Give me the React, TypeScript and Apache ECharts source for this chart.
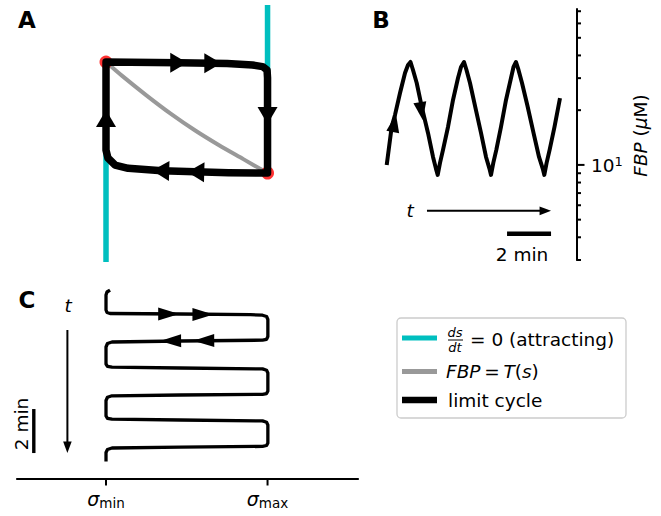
import React, { useEffect, useRef } from 'react';
import * as echarts from 'echarts';

const FONT = 'DejaVu Sans';
const CYAN = '#00bfbf';
const GRAY = '#999999';
const BLACK = '#000000';

// ---------- Panel A : phase plane (sigma vs FBP, normalised) ----------
const nullLeftS = [0, 0];
const nullLeftF = [-0.802, 1.0];
const nullRightS = [1, 1];
const nullRightF = [0, 1.514];
const curveTS = [0, 0.1, 0.25, 0.4, 0.55, 0.7, 0.85, 1];
const curveTF = [1, 0.875, 0.7, 0.535, 0.385, 0.25, 0.125, 0];
const loopS = [0, 0.45, 0.75, 0.907, 0.969, 0.997, 1.0, 1.0, 0.758, 0.346, 0.137, 0.056, 0.012, 0, 0];
const loopF = [1.0, 0.993, 0.986, 0.973, 0.959, 0.928, 0.856, 0, 0.003, 0.021, 0.042, 0.072, 0.135, 0.207, 1.0];
const jumpPointsS = [0, 1];
const jumpPointsF = [1, 0];
// [tailS, tailF, tipS, tipF]
const arrowsA = [
  [0.403, 0.993, 0.503, 0.993],
  [0.614, 0.988, 0.714, 0.988],
  [1, 0.62, 1, 0.441],
  [0.386, 0.018, 0.286, 0.022],
  [0.603, 0.006, 0.503, 0.01],
  [0, 0.4, 0, 0.568],
];

// ---------- Panel B : FBP time course ----------
const timeB = [0, 0.227, 0.377, 0.605, 0.832, 0.968, 1.082, 1.195, 1.364, 1.591, 1.877, 2.105, 2.241, 2.318,
  2.423, 2.559, 2.786, 3.014, 3.241, 3.377, 3.514, 3.627, 3.786, 4.014, 4.286, 4.514, 4.673, 4.741,
  4.845, 4.982, 5.195, 5.423, 5.650, 5.764, 5.877, 5.991, 6.150, 6.400, 6.673, 6.923, 7.095, 7.164,
  7.268, 7.405, 7.627, 7.877];
const fbpB = [10.0, 16.23, 18.83, 24.87, 32.03, 35.44, 36.81, 33.27, 28.22, 20.91, 14.99, 11.06, 9.51, 8.81,
  10.26, 12.09, 16.17, 22.76, 30.06, 34.55, 36.81, 33.27, 28.22, 21.10, 14.99, 11.06, 9.51, 8.81,
  10.26, 12.09, 16.17, 22.76, 30.06, 34.55, 36.81, 33.27, 28.22, 21.10, 14.99, 11.06, 9.51, 8.81,
  10.26, 12.09, 16.17, 23.3];
const arrowsB = [
  [0, 10.0, 0.423, 18.99],
  [1.364, 28.22, 1.637, 17.67],
];
const fbpMinorTicks = [3, 4, 5, 6, 7, 8, 9, 20, 30, 40, 50, 60, 70];
const fbpMajorTicks = [10];
const timeArrowB = [1.83, 7.47];
const timeArrowBLevel = 5.59;
const scaleBarMinutes = 2;
const scaleBarBStart = 5.47;
const scaleBarBLevel = 4.18;

// ---------- Panel C : sigma vs time ----------
const sigmaC = [0.025, 0.006, 0, 0, 0.006, 0.025, 0.46, 0.894, 0.969, 0.994, 1.002,
  1.002, 0.994, 0.969, 0.46, 0.037, 0.009, 0,
  0, 0.009, 0.037, 0.46, 0.969, 0.994, 1.002,
  1.002, 0.994, 0.969, 0.46, 0.037, 0.009, 0,
  0, 0.009, 0.037, 0.46, 0.969, 0.994, 1.002,
  1.002, 0.994, 0.969, 0.46, 0.037, 0.009, 0,
  0];
const timeC = [-0.09, 0, 0.136, 0.818, 0.93, 0.977, 1.0, 1.03, 1.055, 1.114, 1.25,
  2.023, 2.15, 2.19, 2.227, 2.273, 2.341, 2.5,
  3.273, 3.377, 3.418, 3.455, 3.495, 3.559, 3.682,
  4.5, 4.614, 4.65, 4.682, 4.718, 4.786, 4.932,
  5.636, 5.741, 5.782, 5.818, 5.859, 5.923, 6.045,
  6.864, 6.977, 7.018, 7.055, 7.091, 7.159, 7.295,
  7.705];
const arrowsC = [
  [0.37, 1.0, 0.453, 1.0],
  [0.585, 1.02, 0.665, 1.02],
  [0.465, 2.22, 0.335, 2.23],
  [0.67, 2.21, 0.54, 2.22],
];
const sigmaTicks = [0, 1];
const sigmaTickLabels = ['min', 'max'];
const timeArrowC = [1.727, 7.318];
const timeArrowCPos = -0.239;
const scaleBarCStart = 5.32;
const scaleBarCPos = -0.447;

// ---------- axis ranges (layout) ----------
const S_MIN = -0.551, S_MAX = 1.56;
const FA_MIN = -0.802, FA_MAX = 1.514;
const B_T_MIN = -0.305, B_T_MAX = 8.627;
const B_F_MIN = 3, B_F_MAX = 72;
const C_T_MIN = -0.318, C_T_MAX = 8.477;

const zip = (a: number[], b: number[]) => a.map((v, i) => [v, b[i]]);

function arrowHead(L: number, W: number) {
  return (params: any, api: any) => {
    const a = api.coord([api.value(0), api.value(1)]);
    const b = api.coord([api.value(2), api.value(3)]);
    let dx = b[0] - a[0], dy = b[1] - a[1];
    const n = Math.hypot(dx, dy) || 1; dx /= n; dy /= n;
    const bx = b[0] - L * dx, by = b[1] - L * dy;
    return {
      type: 'polygon',
      shape: { points: [[b[0], b[1]], [bx - W * dy, by + W * dx], [bx + W * dy, by - W * dx]] },
      style: { fill: BLACK },
    };
  };
}

function arrowLine(L: number, W: number, lw: number) {
  return (params: any, api: any) => {
    const a = api.coord([api.value(0), api.value(1)]);
    const b = api.coord([api.value(2), api.value(3)]);
    let dx = b[0] - a[0], dy = b[1] - a[1];
    const n = Math.hypot(dx, dy) || 1; dx /= n; dy /= n;
    const bx = b[0] - L * dx, by = b[1] - L * dy;
    return {
      type: 'group',
      children: [
        { type: 'line', shape: { x1: a[0], y1: a[1], x2: bx + 2 * dx, y2: by + 2 * dy }, style: { stroke: BLACK, lineWidth: lw } },
        { type: 'polygon', shape: { points: [[b[0], b[1]], [bx - W * dy, by + W * dx], [bx + W * dy, by - W * dx]] }, style: { fill: BLACK } },
      ],
    };
  };
}

function bar(lw: number) {
  return (params: any, api: any) => {
    const a = api.coord([api.value(0), api.value(1)]);
    const b = api.coord([api.value(2), api.value(3)]);
    return { type: 'line', shape: { x1: a[0], y1: a[1], x2: b[0], y2: b[1] }, style: { stroke: BLACK, lineWidth: lw } };
  };
}

const txt = (x: number, y: number, text: string, extra: any = {}, el: any = {}) => ({
  type: 'text', x, y, ...el,
  style: { text, fontFamily: FONT, fontSize: 18, fill: BLACK, textAlign: 'center', textVerticalAlign: 'middle', ...extra },
});

const mathRich = {
  i: { fontFamily: FONT, fontStyle: 'italic', fontSize: 18, fill: BLACK },
  n: { fontFamily: FONT, fontSize: 18, fill: BLACK },
};
const legendRich = {
  i: { fontFamily: FONT, fontStyle: 'italic', fontSize: 18.5, fill: BLACK },
  n: { fontFamily: FONT, fontSize: 18.5, fill: BLACK },
};

export default function App() {
  const ref = useRef<HTMLDivElement>(null);
  useEffect(() => {
    const chart = echarts.init(ref.current!, null, { renderer: 'svg' });
    const option: any = {
      animation: false,
      backgroundColor: '#ffffff',
      grid: [
        { left: 17, top: 5, width: 341, height: 257 },
        { left: 380, top: 9, width: 196.5, height: 251 },
        { left: 17, top: 285, width: 341, height: 193.5 },
      ],
      xAxis: [
        { gridIndex: 0, type: 'value', min: S_MIN, max: S_MAX, show: false },
        { gridIndex: 1, type: 'value', min: B_T_MIN, max: B_T_MAX, show: false },
        {
          gridIndex: 2, type: 'value', min: S_MIN, max: S_MAX, position: 'bottom',
          axisLine: { show: true, onZero: false, lineStyle: { color: BLACK, width: 2.2 } },
          axisTick: { show: false }, axisLabel: { show: false }, splitLine: { show: false },
        },
      ],
      yAxis: [
        { gridIndex: 0, type: 'value', min: FA_MIN, max: FA_MAX, show: false },
        {
          gridIndex: 1, type: 'log', logBase: 10, min: B_F_MIN, max: B_F_MAX, position: 'right',
          axisLine: { show: true, onZero: false, lineStyle: { color: BLACK, width: 2 } },
          axisTick: { show: false }, axisLabel: { show: false }, splitLine: { show: false },
        },
        { gridIndex: 2, type: 'value', min: C_T_MIN, max: C_T_MAX, inverse: true, show: false },
      ],
      series: [
        // Panel A
        { type: 'line', xAxisIndex: 0, yAxisIndex: 0, data: zip(nullLeftS, nullLeftF), symbol: 'none', z: 1,
          lineStyle: { color: CYAN, width: 5.5 } },
        { type: 'line', xAxisIndex: 0, yAxisIndex: 0, data: zip(nullRightS, nullRightF), symbol: 'none', z: 1,
          lineStyle: { color: CYAN, width: 5.5 } },
        { type: 'line', xAxisIndex: 0, yAxisIndex: 0, data: zip(curveTS, curveTF), symbol: 'none', z: 2, smooth: 0.3,
          lineStyle: { color: GRAY, width: 4 } },
        { type: 'scatter', xAxisIndex: 0, yAxisIndex: 0, data: zip(jumpPointsS, jumpPointsF), symbol: 'circle', symbolSize: 13, z: 3,
          itemStyle: { color: '#ff0000' } },
        { type: 'line', xAxisIndex: 0, yAxisIndex: 0, data: zip(loopS, loopF), symbol: 'none', z: 4,
          lineStyle: { color: BLACK, width: 7.5, join: 'round', cap: 'round' } },
        { type: 'custom', xAxisIndex: 0, yAxisIndex: 0, data: arrowsA, renderItem: arrowHead(17, 10), z: 5 },
        // Panel B
        { type: 'line', xAxisIndex: 1, yAxisIndex: 1, data: zip(timeB, fbpB), symbol: 'none', z: 4,
          lineStyle: { color: BLACK, width: 4, join: 'round' } },
        { type: 'custom', xAxisIndex: 1, yAxisIndex: 1, data: arrowsB, renderItem: arrowHead(18, 6.5), z: 5 },
        { type: 'custom', xAxisIndex: 1, yAxisIndex: 1,
          data: [[timeArrowB[0], timeArrowBLevel, timeArrowB[1], timeArrowBLevel]], renderItem: arrowLine(11.5, 4.3, 2), z: 5 },
        { type: 'custom', xAxisIndex: 1, yAxisIndex: 1,
          data: [[scaleBarBStart, scaleBarBLevel, scaleBarBStart + scaleBarMinutes, scaleBarBLevel]], renderItem: bar(4.5), z: 5 },
        { type: 'custom', xAxisIndex: 1, yAxisIndex: 1,
          data: [...fbpMinorTicks, ...fbpMajorTicks].map((v) => [B_T_MAX, v]),
          renderItem: (params: any, api: any) => {
            const v = api.value(1);
            const p = api.coord([api.value(0), v]);
            const major = fbpMajorTicks.indexOf(v) >= 0;
            const len = major ? 8 : 4.5;
            const children: any[] = [
              { type: 'line', shape: { x1: p[0], y1: p[1], x2: p[0] + len, y2: p[1] }, style: { stroke: BLACK, lineWidth: 2 } },
            ];
            if (major) {
              children.push({
                type: 'text', x: p[0] + 14.5, y: p[1] + 1,
                style: {
                  text: `{b|10}{s|${Math.round(Math.log10(v))}}`,
                  textAlign: 'left', textVerticalAlign: 'middle',
                  rich: {
                    b: { fontFamily: FONT, fontSize: 18.5, lineHeight: 22, fill: BLACK },
                    s: { fontFamily: FONT, fontSize: 13, lineHeight: 13, verticalAlign: 'top', fill: BLACK },
                  },
                },
              });
            }
            return { type: 'group', children };
          },
          z: 5 },
        // Panel C
        { type: 'line', xAxisIndex: 2, yAxisIndex: 2, data: zip(sigmaC, timeC), symbol: 'none', z: 4,
          lineStyle: { color: BLACK, width: 3.3, join: 'round' } },
        { type: 'custom', xAxisIndex: 2, yAxisIndex: 2, data: arrowsC, renderItem: arrowHead(21, 6.5), z: 5 },
        { type: 'custom', xAxisIndex: 2, yAxisIndex: 2,
          data: [[timeArrowCPos, timeArrowC[0], timeArrowCPos, timeArrowC[1]]], renderItem: arrowLine(11.5, 4.3, 2), z: 5 },
        { type: 'custom', xAxisIndex: 2, yAxisIndex: 2,
          data: [[scaleBarCPos, scaleBarCStart, scaleBarCPos, scaleBarCStart + scaleBarMinutes]], renderItem: bar(3.4), z: 5 },
        { type: 'custom', xAxisIndex: 2, yAxisIndex: 2,
          data: sigmaTicks.map((s, i) => [s, C_T_MAX, i]),
          renderItem: (params: any, api: any) => {
            const p = api.coord([api.value(0), api.value(1)]);
            const label = sigmaTickLabels[api.value(2)];
            return {
              type: 'group',
              children: [
                { type: 'line', shape: { x1: p[0], y1: p[1], x2: p[0], y2: p[1] + 7 }, style: { stroke: BLACK, lineWidth: 2 } },
                {
                  type: 'text', x: p[0], y: p[1] + 9.5,
                  style: {
                    text: `{g|σ}{u|${label}}`,
                    textAlign: 'center', textVerticalAlign: 'top',
                    rich: {
                      g: { fontFamily: FONT, fontStyle: 'italic', fontSize: 19, lineHeight: 22, fill: BLACK },
                      u: { fontFamily: FONT, fontSize: 13.5, lineHeight: 13, verticalAlign: 'bottom', fill: BLACK },
                    },
                  },
                },
              ],
            };
          },
          z: 5 },
      ],
      graphic: {
        elements: [
          txt(27, 20, 'A', { fontWeight: 'bold', fontSize: 23 }),
          txt(381, 20, 'B', { fontWeight: 'bold', fontSize: 23 }),
          txt(27, 300, 'C', { fontWeight: 'bold', fontSize: 23 }),
          txt(410, 210, 't', { fontStyle: 'italic', fontSize: 18.5 }),
          txt(522, 254.5, '2 min', { fontSize: 18.5 }),
          txt(68, 305, 't', { fontStyle: 'italic', fontSize: 18.5 }),
          txt(21, 424, '2 min', { fontSize: 18.5 }, { rotation: Math.PI / 2 }),
          {
            type: 'text', x: 640.5, y: 135.5, rotation: Math.PI / 2,
            style: {
              text: '{i|FBP}{n| (}{i|μ}{n|M)}', textAlign: 'center', textVerticalAlign: 'middle', rich: legendRich,
            },
          },
          // legend
          { type: 'rect', shape: { x: 397, y: 318, width: 229, height: 100, r: 4 }, style: { fill: '#ffffff', stroke: '#cccccc', lineWidth: 1.3 }, z: 10 },
          { type: 'line', shape: { x1: 402, y1: 338, x2: 437, y2: 338 }, style: { stroke: CYAN, lineWidth: 5 }, z: 11 },
          { type: 'line', shape: { x1: 402, y1: 371.5, x2: 437, y2: 371.5 }, style: { stroke: GRAY, lineWidth: 5 }, z: 11 },
          { type: 'line', shape: { x1: 402, y1: 400, x2: 437, y2: 400 }, style: { stroke: BLACK, lineWidth: 6.5 }, z: 11 },
          { ...txt(455, 332, 'ds', { fontStyle: 'italic', fontSize: 13 }), z: 11 },
          { type: 'line', shape: { x1: 448, y1: 340, x2: 463, y2: 340 }, style: { stroke: BLACK, lineWidth: 1 }, z: 11 },
          { ...txt(455, 347.5, 'dt', { fontStyle: 'italic', fontSize: 13 }), z: 11 },
          { ...txt(470, 339, '= 0 (attracting)', { textAlign: 'left', fontSize: 18.5 }), z: 11 },
          {
            type: 'text', x: 446, y: 371, z: 11,
            style: { text: '{i|FBP}{n|\u2009=\u2009}{i|T}{n|(}{i|s}{n|)}', textAlign: 'left', textVerticalAlign: 'middle', rich: legendRich },
          },
          { ...txt(448, 400, 'limit cycle', { textAlign: 'left', fontSize: 18.5 }), z: 11 },
        ],
      },
    };
    chart.setOption(option);
    return () => chart.dispose();
  }, []);
  return <div ref={ref} style={{ position: 'fixed', left: 0, top: 0, width: 661, height: 516, background: '#fff' }} />;
}
